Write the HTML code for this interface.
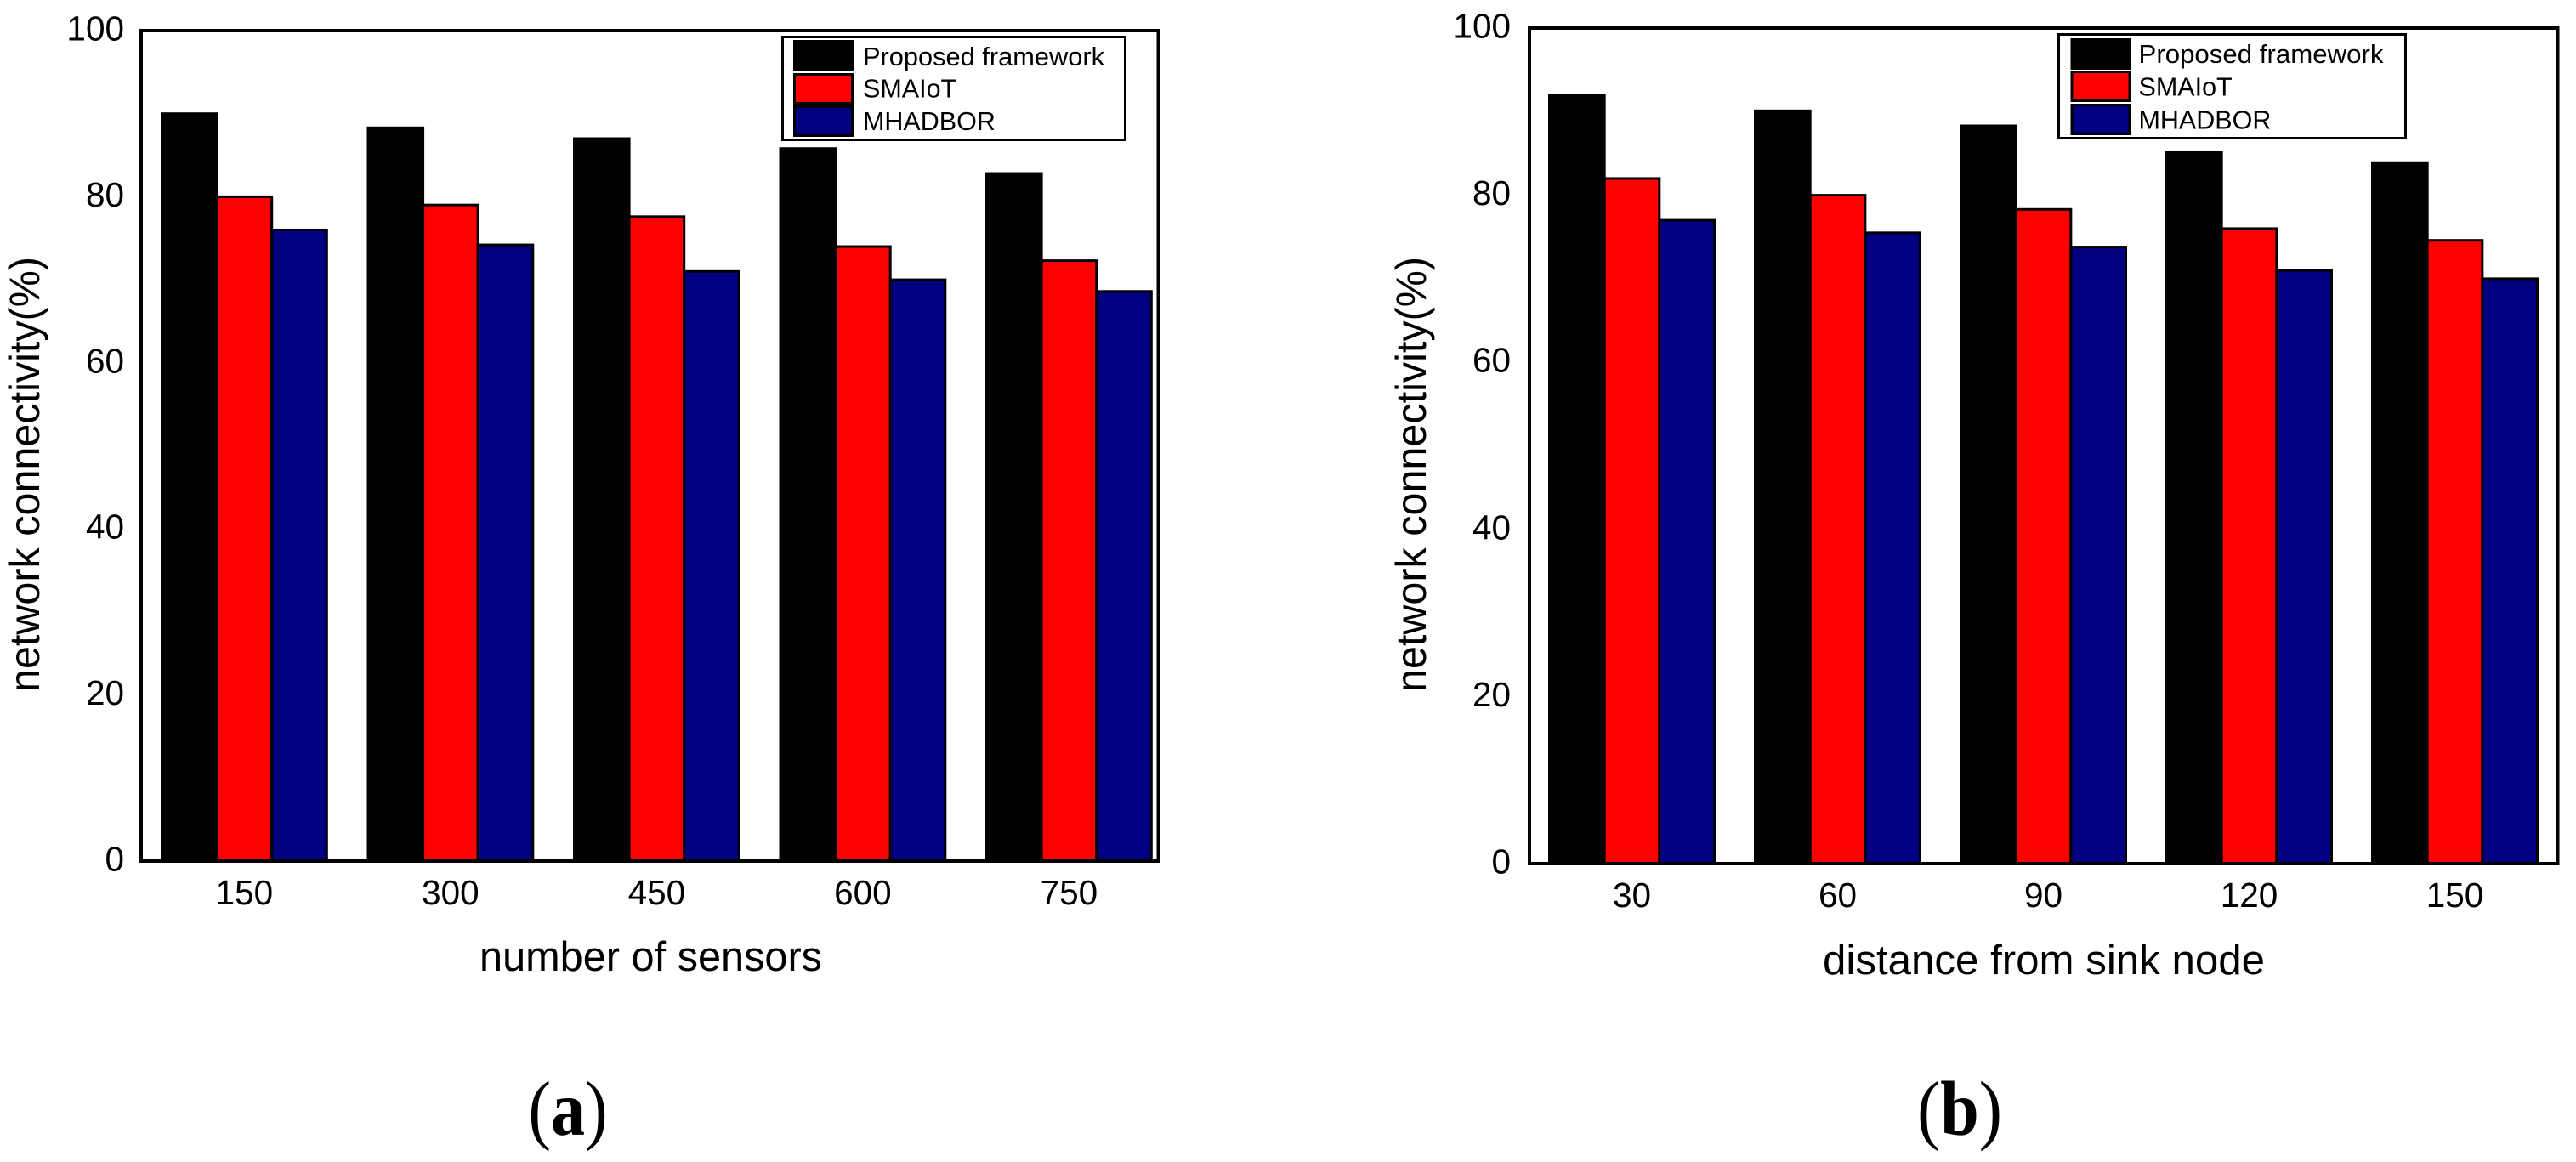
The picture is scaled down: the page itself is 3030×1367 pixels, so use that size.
<!DOCTYPE html>
<html lang="en">
<head>
<meta charset="utf-8">
<title>Network connectivity comparison</title>
<style>
  html, body { margin: 0; padding: 0; background: #ffffff; }
  svg { display: block; }
  text { font-family: "Liberation Sans", Arial, sans-serif; fill: #000000; }
  .panel-label, .panel-label tspan { font-family: "Liberation Serif", "Times New Roman", serif; }
</style>
</head>
<body>
<svg id="figure" xmlns="http://www.w3.org/2000/svg" width="3030" height="1367" viewBox="0 0 3030 1367">
  <rect x="0" y="0" width="3030" height="1367" fill="#ffffff"/>

  <g id="chart-a">
    <g id="bars-a"></g>
    <rect x="166" y="36" width="1196.5" height="977" fill="none" stroke="#000" stroke-width="4"/>
    <g id="yticks-a"></g>
    <g id="xticks-a"></g>
    <text transform="translate(46,558) rotate(-90)" text-anchor="middle" font-size="50" textLength="512" lengthAdjust="spacingAndGlyphs">network connectivity(%)</text>
    <text x="564" y="1142" font-size="49" textLength="403" lengthAdjust="spacingAndGlyphs">number of sensors</text>
    <g>
      <rect x="920.5" y="43.5" width="403" height="121" fill="#ffffff" stroke="#000" stroke-width="3"/>
      <g>
        <rect x="934.5" y="48.5" width="68" height="34" fill="#000000" stroke="#000" stroke-width="3"/>
        <text x="1015" y="77" font-size="30.5" textLength="284" lengthAdjust="spacingAndGlyphs">Proposed framework</text>
      </g>
      <g>
        <rect x="934.5" y="87.5" width="68" height="34" fill="#ff0000" stroke="#000" stroke-width="3"/>
        <text x="1015" y="114.5" font-size="30.5">SMAIoT</text>
      </g>
      <g>
        <rect x="934.5" y="125.5" width="68" height="34" fill="#000080" stroke="#000" stroke-width="3"/>
        <text x="1015" y="153" font-size="30.5">MHADBOR</text>
      </g>
    </g>
    <text class="panel-label" transform="translate(668,1335) scale(0.88,1)" text-anchor="middle" font-size="91">(<tspan font-weight="bold">a</tspan>)</text>
  </g>

  <g id="chart-b">
    <g id="bars-b"></g>
    <rect x="1799" y="33" width="1209.5" height="983" fill="none" stroke="#000" stroke-width="4"/>
    <g id="yticks-b"></g>
    <g id="xticks-b"></g>
    <text transform="translate(1677,558) rotate(-90)" text-anchor="middle" font-size="50" textLength="512" lengthAdjust="spacingAndGlyphs">network connectivity(%)</text>
    <text x="2144" y="1146" font-size="49" textLength="520" lengthAdjust="spacingAndGlyphs">distance from sink node</text>
    <g>
      <rect x="2421.5" y="40.5" width="408" height="122" fill="#ffffff" stroke="#000" stroke-width="3"/>
      <g>
        <rect x="2437" y="46.5" width="68" height="34" fill="#000000" stroke="#000" stroke-width="3"/>
        <text x="2515.5" y="74" font-size="30.5" textLength="288" lengthAdjust="spacingAndGlyphs">Proposed framework</text>
      </g>
      <g>
        <rect x="2437" y="84.5" width="68" height="34" fill="#ff0000" stroke="#000" stroke-width="3"/>
        <text x="2515.5" y="112.5" font-size="30.5">SMAIoT</text>
      </g>
      <g>
        <rect x="2437" y="123.5" width="68" height="34" fill="#000080" stroke="#000" stroke-width="3"/>
        <text x="2515.5" y="151.5" font-size="30.5">MHADBOR</text>
      </g>
    </g>
    <text class="panel-label" transform="translate(2305,1335) scale(0.9,1)" text-anchor="middle" font-size="91">(<tspan font-weight="bold">b</tspan>)</text>
  </g>
</svg>

<script>
// Shared axis ticks
const yTickLabels = [0, 20, 40, 60, 80, 100];
const seriesNames = ['proposed', 'smaiot', 'mhadbor'];
const seriesColors = ['#000000', '#ff0000', '#000080'];

// Panel (a): network connectivity vs number of sensors
const categoriesA = ['150', '300', '450', '600', '750'];
const proposedA = [90, 88.3, 87, 85.8, 82.8];
const smaiotA = [80, 79, 77.6, 74, 72.3];
const mhadborA = [76, 74.2, 71, 70, 68.6];

// Panel (b): network connectivity vs distance from sink node
const categoriesB = ['30', '60', '90', '120', '150'];
const proposedB = [92, 90.1, 88.3, 85.1, 83.9];
const smaiotB = [82, 80, 78.3, 76, 74.6];
const mhadborB = [77, 75.5, 73.8, 71, 70];

const SVG_NS = 'http://www.w3.org/2000/svg';

function drawChart(suffix, categories, seriesList, frame) {
  const barsGroup = document.getElementById('bars-' + suffix);
  const yTicksGroup = document.getElementById('yticks-' + suffix);
  const xTicksGroup = document.getElementById('xticks-' + suffix);

  const yScale = function (v) { return frame.yZero - v * frame.yUnit; };
  const xScale = function (catIndex, seriesIndex) {
    return frame.xStart + catIndex * frame.pitch + seriesIndex * frame.barWidth;
  };

  seriesList.forEach(function (values, s) {
    values.forEach(function (v, c) {
      const bar = document.createElementNS(SVG_NS, 'rect');
      bar.setAttribute('x', xScale(c, s));
      bar.setAttribute('y', yScale(v));
      bar.setAttribute('width', frame.barWidth);
      bar.setAttribute('height', frame.yZero - yScale(v));
      bar.setAttribute('fill', seriesColors[s]);
      bar.setAttribute('stroke', '#000');
      bar.setAttribute('stroke-width', '3');
      
      
      barsGroup.appendChild(bar);
    });
  });

  yTickLabels.forEach(function (t) {
    const label = document.createElementNS(SVG_NS, 'text');
    label.setAttribute('x', frame.yLabelX);
    label.setAttribute('y', yScale(t) + 11.5);
    label.setAttribute('text-anchor', 'end');
    label.setAttribute('font-size', '40.5');
    label.textContent = t;
    
    
    yTicksGroup.appendChild(label);
  });

  categories.forEach(function (cat, c) {
    const label = document.createElementNS(SVG_NS, 'text');
    label.setAttribute('x', xScale(c, 1) + frame.barWidth / 2);
    label.setAttribute('y', frame.xLabelY);
    label.setAttribute('text-anchor', 'middle');
    label.setAttribute('font-size', '40.5');
    label.textContent = cat;
    
    
    xTicksGroup.appendChild(label);
  });
}

drawChart('a', categoriesA, [proposedA, smaiotA, mhadborA], {
  yZero: 1013, yUnit: 9.77, xStart: 190.5, pitch: 242.5, barWidth: 64.6, yLabelX: 146, xLabelY: 1064
});
drawChart('b', categoriesB, [proposedB, smaiotB, mhadborB], {
  yZero: 1016, yUnit: 9.83, xStart: 1822.5, pitch: 242, barWidth: 64.67, yLabelX: 1777, xLabelY: 1067
});
</script>
</body>
</html>
